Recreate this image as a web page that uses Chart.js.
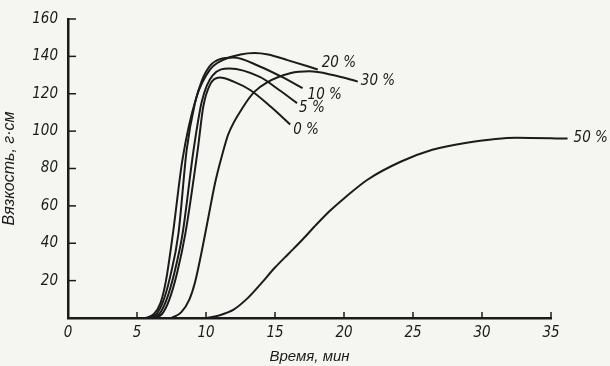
<!DOCTYPE html>
<html>
<head>
<meta charset="utf-8">
<script src="https://cdn.jsdelivr.net/npm/chart.js@4"></script>
<style>
  html, body { margin: 0; padding: 0; background: #f5f5f2; }
  #wrap { width: 610px; height: 366px; }
</style>
</head>
<body>
<div id="wrap"><canvas id="viscChart" width="610" height="366"></canvas></div>
<script>
// ── Data ──────────────────────────────────────────────────
const xTicks = [0, 5, 10, 15, 20, 25, 30, 35];
const yTicks = [20, 40, 60, 80, 100, 120, 140, 160];
const seriesNames = ['0 %', '5 %', '10 %', '20 %', '30 %', '50 %'];

const time0 = [6.2, 6.8, 7.3, 7.9, 8.5, 9.4, 9.8, 10.3, 11.0, 12.0, 13.2, 14.7, 16.1];
const visc0 = [0, 2, 9, 24, 45, 90, 113, 125, 128.7, 126.5, 122, 113, 103.5];

const time5 = [6.0, 6.6, 7.1, 7.7, 8.3, 9.1, 9.7, 10.5, 11.7, 13.9, 15.3, 16.6];
const visc5 = [0, 2, 9, 24, 45, 90, 116, 130, 133.5, 129, 122, 115];

const time10 = [5.8, 6.4, 6.9, 7.4, 8.0, 8.6, 9.2, 9.7, 10.3, 11.0, 12.0, 13.9, 15.5, 17.0];
const visc10 = [0, 2, 9, 22, 45, 90, 115, 127, 135, 138.5, 139.4, 134.6, 129, 123];

const time20 = [5.6, 6.2, 6.7, 7.1, 7.6, 8.3, 9.3, 10.3, 11.2, 12.5, 13.5, 14.5, 15.9, 18.1];
const visc20 = [0, 2, 8, 20, 45, 85, 118, 133, 138, 141, 141.8, 141, 138, 133];

const time30 = [7.5, 8.2, 8.8, 9.2, 9.7, 10.2, 10.65, 11.2, 11.6, 12.7, 13.5, 14.4, 16.1, 17.5, 19.2, 21.0];
const visc30 = [0, 3, 10, 19, 36, 55, 72, 88, 98, 113, 121, 126, 131, 132, 130, 126.5];

const time50 = [10, 11, 12, 13, 14, 15, 16, 17, 18, 19, 20, 21.7, 24.1, 26.4, 28.9, 32.5, 36.2];
const visc50 = [0, 1.5, 4.5, 10.5, 18.5, 27, 34.5, 42, 50, 57.5, 64, 74, 83.6, 90, 93.8, 96.5, 96];

const allTimes = [time0, time5, time10, time20, time30, time50];
const allVisc  = [visc0, visc5, visc10, visc20, visc30, visc50];

// label offsets from the last point of each curve (px)
const labelOffsets = [[3, 6], [2, 5], [5, 7], [4, -6], [3, 0], [6, 0]];

const ink = '#1b1b1b';
const narrow = "'Liberation Sans Narrow', 'DejaVu Sans Condensed', 'Liberation Sans', sans-serif";
const wide   = "'Liberation Sans', 'DejaVu Sans', sans-serif";

// ── Inward ticks + curve labels ───────────────────────────
const decorPlugin = {
    id: 'decor',
    afterDatasetsDraw(chart) {
        const { ctx, scales: { x, y } } = chart;
        ctx.save();
        ctx.strokeStyle = ink;
        ctx.lineWidth = 1.5;
        const y0 = y.getPixelForValue(0);
        const x0 = x.getPixelForValue(0);
        xTicks.forEach(v => {
            if (v === 0) return;
            const px = x.getPixelForValue(v);
            ctx.beginPath(); ctx.moveTo(px, y0); ctx.lineTo(px, y0 - 6); ctx.stroke();
        });
        yTicks.forEach(v => {
            const py = y.getPixelForValue(v);
            ctx.beginPath(); ctx.moveTo(x0, py); ctx.lineTo(x0 + 8, py); ctx.stroke();
        });

        ctx.fillStyle = ink;
        ctx.font = 'italic 15px ' + narrow;
        ctx.textBaseline = 'middle';
        ctx.textAlign = 'left';
        chart.data.datasets.forEach((ds, i) => {
            const last = ds.data[ds.data.length - 1];
            const px = x.getPixelForValue(last.x);
            const py = y.getPixelForValue(last.y);
            ctx.fillText(seriesNames[i], px + labelOffsets[i][0], py + labelOffsets[i][1]);
        });
        ctx.restore();
    }
};

const datasets = allTimes.map((times, i) => ({
    label: seriesNames[i],
    data: times.map((t, k) => ({ x: t, y: allVisc[i][k] })),
    borderColor: ink,
    borderWidth: 2,
    pointRadius: 0,
    cubicInterpolationMode: 'monotone',
    fill: false,
    clip: false,
}));

new Chart(document.getElementById('viscChart'), {
    type: 'line',
    data: { datasets },
    plugins: [decorPlugin],
    options: {
        responsive: false,
        animation: false,
        layout: { padding: { top: 12, right: 59, left: 0, bottom: 0 } },
        plugins: {
            legend: { display: false },
            tooltip: { enabled: false }
        },
        scales: {
            x: {
                type: 'linear',
                min: 0,
                max: 35,
                afterBuildTicks: s => { s.ticks = xTicks.map(v => ({ value: v })); },
                afterFit: s => { s.height = 48; },
                grid: { display: false, drawTicks: false },
                border: { display: true, color: ink, width: 2.5 },
                ticks: {
                    color: ink,
                    padding: 6,
                    font: { family: narrow, size: 15, style: 'italic' }
                },
                title: {
                    display: true,
                    text: 'Время, мин',
                    color: ink,
                    padding: { top: 0, bottom: 0 },
                    font: { family: wide, size: 15, style: 'italic' }
                }
            },
            y: {
                min: 0,
                max: 160,
                afterBuildTicks: s => { s.ticks = yTicks.map(v => ({ value: v })); },
                afterFit: s => { s.width = 68; },
                grid: { display: false, drawTicks: false },
                border: { display: true, color: ink, width: 2.5 },
                ticks: {
                    color: ink,
                    padding: 10,
                    font: { family: narrow, size: 15, style: 'italic' }
                },
                title: {
                    display: true,
                    text: 'Вязкость, г·см',
                    color: ink,
                    padding: { top: 0, bottom: 0 },
                    font: { family: wide, size: 16, style: 'italic' }
                }
            }
        }
    }
});
</script>
</body>
</html>
